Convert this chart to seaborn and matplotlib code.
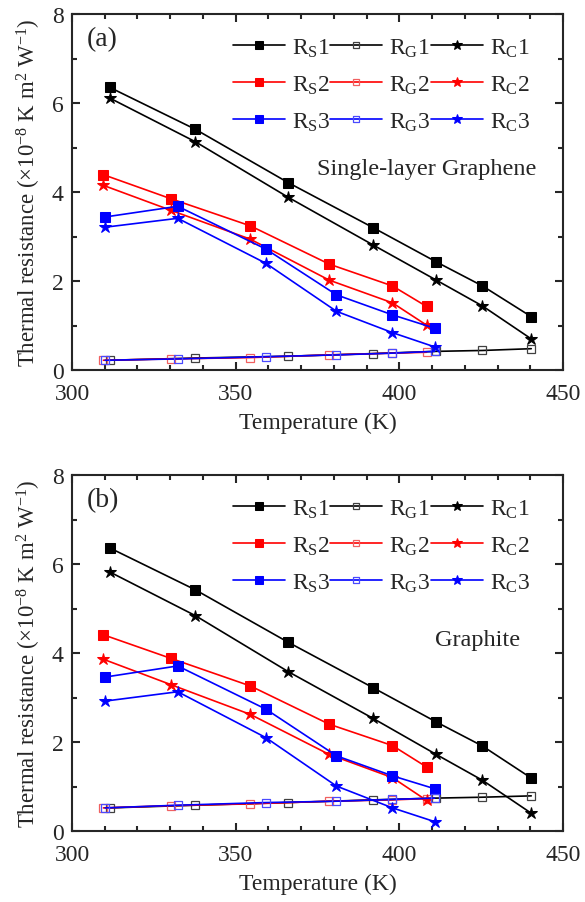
import numpy as np
import pandas as pd
import matplotlib
matplotlib.use('Agg')
import matplotlib.pyplot as plt
from matplotlib.path import Path
from matplotlib.ticker import MultipleLocator
import seaborn as sns

# temperatures of the three samples (K)
T1 = [311.6, 337.7, 366.1, 392.0, 411.3, 425.4, 440.3]
T2 = [309.6, 330.2, 354.5, 378.6, 397.9, 408.3]
T3 = [310.1, 332.3, 359.2, 380.8, 397.9, 410.8]

# (a) single-layer graphene
a_RS1 = [6.35, 5.41, 4.21, 3.20, 2.43, 1.89, 1.20]
a_RG1 = [0.22, 0.27, 0.31, 0.37, 0.42, 0.44, 0.48]
a_RC1 = [6.11, 5.13, 3.88, 2.81, 2.02, 1.44, 0.70]
a_RS2 = [4.39, 3.85, 3.24, 2.38, 1.89, 1.43]
a_RG2 = [0.22, 0.25, 0.28, 0.34, 0.38, 0.40]
a_RC2 = [4.15, 3.59, 2.94, 2.02, 1.51, 1.01]
a_RS3 = [3.44, 3.68, 2.72, 1.69, 1.24, 0.94]
a_RG3 = [0.22, 0.25, 0.30, 0.34, 0.38, 0.42]
a_RC3 = [3.21, 3.41, 2.40, 1.32, 0.84, 0.52]

# (b) graphite
b_RS1 = [6.36, 5.42, 4.24, 3.22, 2.45, 1.91, 1.19]
b_RG1 = [0.52, 0.58, 0.64, 0.70, 0.74, 0.76, 0.79]
b_RC1 = [5.82, 4.84, 3.58, 2.53, 1.72, 1.14, 0.40]
b_RS2 = [4.41, 3.88, 3.26, 2.40, 1.92, 1.44]
b_RG2 = [0.52, 0.57, 0.61, 0.67, 0.70, 0.73]
b_RC2 = [3.86, 3.29, 2.62, 1.72, 1.20, 0.69]
b_RS3 = [3.46, 3.71, 2.74, 1.69, 1.24, 0.95]
b_RG3 = [0.52, 0.58, 0.64, 0.67, 0.71, 0.74]
b_RC3 = [2.92, 3.13, 2.10, 1.01, 0.52, 0.21]

sns.set_style('ticks')
plt.rcParams['font.family'] = ['Liberation Serif', 'DejaVu Serif']
plt.rcParams['mathtext.fontset'] = 'custom'
plt.rcParams['mathtext.rm'] = 'Liberation Serif'
plt.rcParams['mathtext.it'] = 'Liberation Serif:italic'
plt.rcParams['font.size'] = 17

# open square with a dot in the middle (R_G3)
sq = [(-1, -1), (1, -1), (1, 1), (-1, 1), (-1, -1)]
dot = [(-0.08, -0.08), (0.08, -0.08), (0.08, 0.08), (-0.08, 0.08), (-0.08, -0.08)]
codes = [Path.MOVETO, Path.LINETO, Path.LINETO, Path.LINETO, Path.CLOSEPOLY]
dotsq = Path(sq + dot, codes + codes)

colors = ['black', 'red', 'blue']
gcolors = ['#404040', '#f06060', '#4a4aff']
gmarkers = ['s', 's', dotsq]

fig = plt.figure(figsize=(5.85, 9.03), dpi=100)
ax_a = fig.add_axes([0.1231, 0.5891, 0.8393, 0.3942])
ax_b = fig.add_axes([0.1231, 0.0786, 0.8393, 0.3942])

panels = [
    (ax_a, [(T1, a_RS1, a_RG1, a_RC1), (T2, a_RS2, a_RG2, a_RC2), (T3, a_RS3, a_RG3, a_RC3)],
     '(a)', 'Single-layer Graphene', (0.723, 0.565)),
    (ax_b, [(T1, b_RS1, b_RG1, b_RC1), (T2, b_RS2, b_RG2, b_RC2), (T3, b_RS3, b_RG3, b_RC3)],
     '(b)', 'Graphite', (0.825, 0.539)),
]

for ax, sets, tag, name, npos in panels:
    for i, (T, rs, rg, rc) in enumerate(sets):
        n = str(i + 1)
        c = colors[i]
        sns.lineplot(x=T, y=rs, ax=ax, color=c, lw=1.2, marker='s', ms=6.5,
                     mec=c, mfc=c, label=r'R$_\mathrm{S}$' + n, sort=False)
        sns.lineplot(x=T, y=rg, ax=ax, color=c, lw=1.2, marker=gmarkers[i], ms=5.5,
                     mec=gcolors[i], mfc='none', mew=0.9, label=r'R$_\mathrm{G}$' + n, sort=False)
        sns.lineplot(x=T, y=rc, ax=ax, color=c, lw=1.2, marker='*', ms=9,
                     mec=c, mfc=c, label=r'R$_\mathrm{C}$' + n, sort=False)
    h, l = ax.get_legend_handles_labels()
    order = [0, 3, 6, 1, 4, 7, 2, 5, 8]
    ax.legend([h[k] for k in order], [l[k] for k in order], ncol=3, loc='upper right',
              bbox_to_anchor=(0.952, 0.963), frameon=False, handlelength=2.2,
              handletextpad=0.3, columnspacing=0.0, labelspacing=0.62,
              borderaxespad=0.0, fontsize=17, markerscale=0.8)
    ax.text(0.03, 0.965, tag, transform=ax.transAxes, ha='left', va='top', fontsize=20)
    ax.text(npos[0], npos[1], name, transform=ax.transAxes, ha='center', va='center', fontsize=17.5)

    ax.set_xlim(300, 450)
    ax.set_ylim(0, 8)
    ax.xaxis.set_major_locator(MultipleLocator(50))
    ax.xaxis.set_minor_locator(MultipleLocator(10))
    ax.yaxis.set_major_locator(MultipleLocator(2))
    ax.yaxis.set_minor_locator(MultipleLocator(1))
    ax.tick_params(which='both', direction='in', top=True, right=True, width=1.5,
                   labelsize=17)
    ax.tick_params(axis='x', pad=9)
    ax.tick_params(axis='y', pad=6)
    ax.tick_params(which='major', length=6)
    ax.tick_params(which='minor', length=3.5)
    for s in ax.spines.values():
        s.set_linewidth(1.5)
    ax.set_xlabel('Temperature (K)', fontsize=17, labelpad=6)
    ax.set_ylabel(r'Thermal resistance ($\times$10$^{-8}$ K m$^{2}$ W$^{-1}$)', fontsize=16.5, labelpad=6)

fig.savefig('out.png', dpi=100)
